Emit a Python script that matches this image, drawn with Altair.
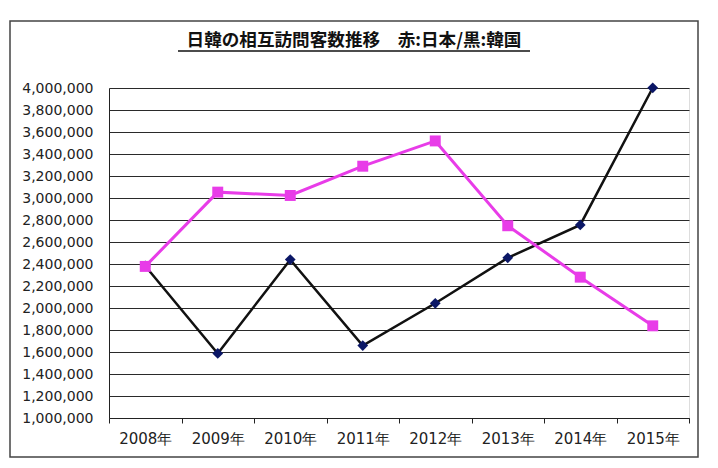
import altair as alt
import pandas as pd

years = ["2008年", "2009年", "2010年", "2011年", "2012年", "2013年", "2014年", "2015年"]
japan = [2378102, 3053311, 3023009, 3289051, 3518792, 2747750, 2280434, 1837782]
korea = [2382397, 1586772, 2439816, 1658073, 2042775, 2456165, 2755313, 4002095]
y_ticks = list(range(1000000, 4000001, 200000))
title_text = "日韓の相互訪問客数推移　赤:日本/黒:韓国"

df = pd.DataFrame({
    "year": years * 2,
    "value": japan + korea,
    "series": ["日本"] * len(years) + ["韓国"] * len(years),
})
df_j = df[df.series == "日本"]
df_k = df[df.series == "韓国"]

FONT = "Noto Sans CJK JP"
NUMFONT = "DejaVu Sans"

x_enc = alt.X(
    "year:N",
    sort=years,
    scale=alt.Scale(type="band", paddingInner=0, paddingOuter=0),
    axis=alt.Axis(
        title=None, labelAngle=0, labelFontSize=15, labelColor="#222222",
        labelFont=NUMFONT, tickBand="extent", tickSize=5, tickColor="#222222",
        domainColor="#222222", labelPadding=8,
    ),
)
y_enc = alt.Y(
    "value:Q",
    scale=alt.Scale(domain=[1000000, 4000000], nice=False, zero=False),
    axis=alt.Axis(
        title=None, values=y_ticks, format=",d", labelFontSize=14,
        labelColor="#222222", labelFont=NUMFONT, ticks=False,
        labelPadding=16, domainColor="#222222",
        grid=True, gridColor="#2a2a2a", gridWidth=1, gridOpacity=1,
    ),
)

line_j = alt.Chart(df_j).mark_line(color="#E83CE8", strokeWidth=3).encode(x=x_enc, y=y_enc)
pts_j = alt.Chart(df_j).mark_point(
    shape="square", filled=True, size=120, color="#E83CE8", opacity=1
).encode(x=x_enc, y=y_enc)
line_k = alt.Chart(df_k).mark_line(color="#111111", strokeWidth=2.5).encode(x=x_enc, y=y_enc)
pts_k = alt.Chart(df_k).mark_point(
    shape="diamond", filled=True, size=115, color="#0B1766", opacity=1
).encode(x=x_enc, y=y_enc)

frame = alt.Chart(pd.DataFrame({"a": [0]})).mark_rect(
    fill=None, stroke="#444444", strokeWidth=1.5, clip=False
).encode(
    x=alt.value(-99), x2=alt.value(589), y=alt.value(-67), y2=alt.value(369)
)
title = alt.Chart(pd.DataFrame({"t": [title_text]})).mark_text(
    font=FONT, fontSize=17.6, fontWeight="bold", color="#111111",
    align="center", baseline="bottom", clip=False,
).encode(text="t:N", x=alt.value(245), y=alt.value(-38))
underline = alt.Chart(pd.DataFrame({"a": [0]})).mark_rule(
    color="#111111", strokeWidth=1.5, clip=False
).encode(
    x=alt.value(69), x2=alt.value(421), y=alt.value(-37)
)

chart = alt.layer(frame, title, underline, line_k, line_j, pts_k, pts_j).properties(
    width=580,
    height=330,
    autosize=alt.AutoSizeParams(type="none"),
    padding={"left": 101, "top": 80, "right": 21, "bottom": 40},
).configure_view(
    fill="#FBFAC4", stroke="#222222", strokeWidth=1
).configure(background="white")

chart.save("out.html", embed_options={"renderer": "svg", "actions": False})
